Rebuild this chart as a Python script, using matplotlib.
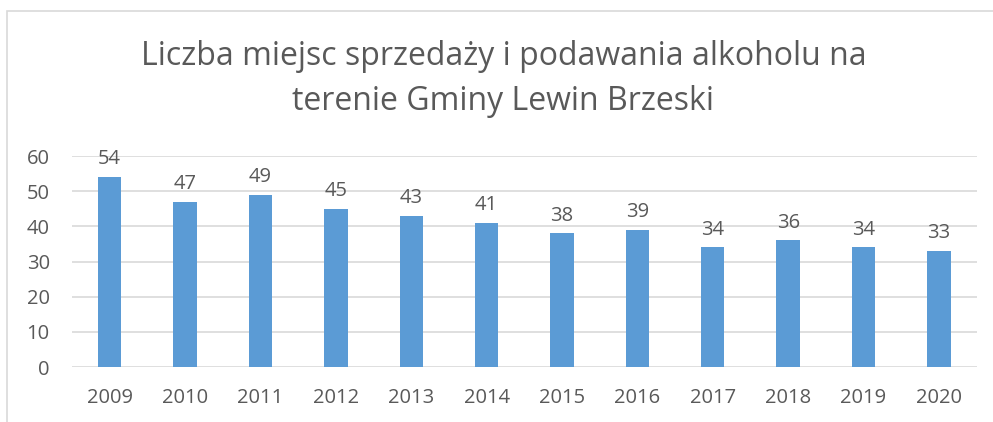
import matplotlib.pyplot as plt
from matplotlib.patches import Rectangle

years = ["2009", "2010", "2011", "2012", "2013", "2014",
         "2015", "2016", "2017", "2018", "2019", "2020"]
counts = [54, 47, 49, 45, 43, 41, 38, 39, 34, 36, 34, 33]
title = "Liczba miejsc sprzedaży i podawania alkoholu na\nterenie Gminy Lewin Brzeski"

TEXT = "#595959"
BAR = "#5B9BD5"
GRID = "#D9D9D9"

plt.rcParams["font.family"] = ["Open Sans", "DejaVu Sans"]

fig = plt.figure(figsize=(9.93, 4.22), dpi=100)
ax = fig.add_axes([0.0725, 0.1303, 0.911, 0.5])

# chart frame (only left and top edges visible in the crop)
fig.patches.append(Rectangle((7 / 993, -0.1), 1.2, 1.1 - 11 / 422,
                             transform=fig.transFigure, fill=False,
                             edgecolor="#D9D9D9", linewidth=1.2))

x = range(len(years))
ax.bar(x, counts, width=0.31, color=BAR, zorder=3)
for xi, v in zip(x, counts):
    ax.text(xi, v + 2.2, str(v), ha="center", va="bottom", fontsize=14.5, color=TEXT)

ax.set_xlim(-0.5, len(years) - 0.5)
ax.set_ylim(0, 60)
ax.set_yticks(range(0, 61, 10))
ax.set_xticks(list(x))
ax.set_xticklabels(years)
ax.tick_params(axis="both", length=0, labelsize=14.5, colors=TEXT)
ax.tick_params(axis="x", pad=15)
ax.tick_params(axis="y", pad=16)
ax.grid(axis="y", color=GRID, linewidth=1.2, zorder=0)
for s in ax.spines.values():
    s.set_visible(False)

fig.text(0.507, 1 - 79 / 422, title, ha="center", va="center",
         fontsize=23, color=TEXT, linespacing=1.5)

fig.savefig("out.png", dpi=100)
